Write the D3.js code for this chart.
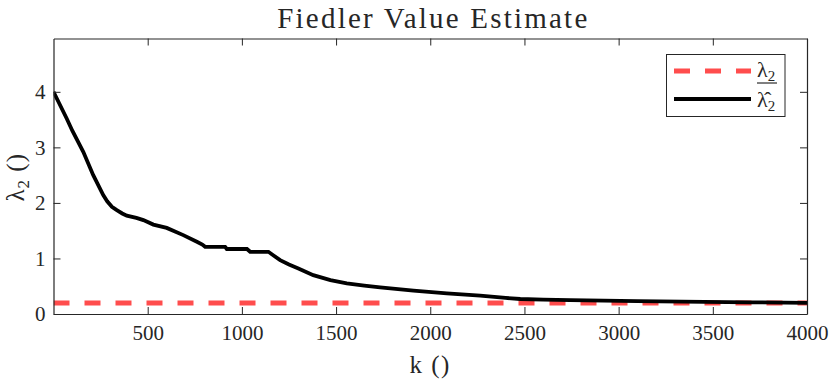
<!DOCTYPE html>
<html><head><meta charset="utf-8">
<script src="https://cdn.jsdelivr.net/npm/d3@7"></script>
<style>
body{margin:0;background:#fff}
svg{display:block}
text{font-family:"Liberation Serif","Times New Roman","DejaVu Serif",serif;fill:#262626}
</style>
</head><body>
<svg id="c" width="830" height="380"></svg>
<script>
// ---- data ----
const kValues = [0,70,100,158,211,264,285,310,336,365,389,440,477,530,601,689,761,790,805,911,920,1027,1044,1141,1170,1203,1250,1300,1379,1470,1557,1650,1734,1911,2088,2265,2400,2478,2600,2743,3098,3454,3700,4000];
const lambdaHat = [4.00,3.52,3.30,2.92,2.50,2.14,2.03,1.93,1.87,1.81,1.77,1.73,1.69,1.61,1.55,1.42,1.30,1.25,1.21,1.21,1.17,1.17,1.12,1.12,1.05,0.97,0.89,0.82,0.70,0.61,0.55,0.51,0.48,0.42,0.37,0.33,0.29,0.27,0.26,0.25,0.23,0.22,0.21,0.20];
const lambdaTrue = 0.2;
const xDomain = [0, 4000];
const yDomain = [0, 4.96];
const xTicks = [500,1000,1500,2000,2500,3000,3500,4000];
const yTicks = [0,1,2,3,4];
const titleText = "Fiedler Value Estimate";
const xLabel = "k ()";

// ---- layout ----
const L = 53.5, R = 807, T = 38.5, B = 314;
const axisCol = "#262626", redCol = "#ff4d4d";
const svg = d3.select("#c");
const x = d3.scaleLinear().domain(xDomain).range([L, R]);
const y = d3.scaleLinear().domain(yDomain).range([B, T]);

svg.append("defs").append("clipPath").attr("id","clip")
  .append("rect").attr("x",L).attr("y",T).attr("width",R-L).attr("height",B-T);
const plot = svg.append("g").attr("clip-path","url(#clip)");

// red dashed true value
plot.append("path")
  .attr("d", d3.line().x(d=>x(d)).y(()=>y(lambdaTrue))(xDomain))
  .attr("stroke", redCol).attr("stroke-width", 5).attr("stroke-dasharray","16,15").attr("fill","none");

// black estimate
const pts = kValues.map((k,i)=>[k, lambdaHat[i]]);
plot.append("path")
  .attr("d", d3.line().x(d=>x(d[0])).y(d=>y(d[1])).curve(d3.curveLinear)(pts))
  .attr("stroke","#000").attr("stroke-width",3.8).attr("fill","none");

// axes
const fs = 21;
const gx = svg.append("g").attr("transform",`translate(0,${B})`)
  .call(d3.axisBottom(x).tickValues(xTicks).tickSizeInner(-7).tickSizeOuter(0).tickPadding(11).tickFormat(d3.format("d")));
const gxt = svg.append("g").attr("transform",`translate(0,${T})`)
  .call(d3.axisTop(x).tickValues(xTicks).tickSizeInner(-7).tickSizeOuter(0).tickFormat(""));
const gy = svg.append("g").attr("transform",`translate(${L},0)`)
  .call(d3.axisLeft(y).tickValues(yTicks).tickSizeInner(-7).tickSizeOuter(0).tickPadding(8).tickFormat(d3.format("d")));
const gyr = svg.append("g").attr("transform",`translate(${R},0)`)
  .call(d3.axisRight(y).tickValues(yTicks).tickSizeInner(-7).tickSizeOuter(0).tickFormat(""));
[gx,gxt,gy,gyr].forEach(g=>{
  g.selectAll("path.domain").attr("stroke",axisCol).attr("stroke-width",1.2);
  g.selectAll(".tick line").attr("stroke",axisCol).attr("stroke-width",1);
  g.selectAll("text").attr("font-size",fs).attr("font-family",'"Liberation Serif","Times New Roman",serif').attr("fill",axisCol);
});

// title
svg.append("text").attr("x",(L+R)/2 + 2).attr("y",28).attr("text-anchor","middle")
  .attr("font-size",29).attr("textLength",310).attr("lengthAdjust","spacing").text(titleText);

// x label
svg.append("text").attr("x",(L+R)/2).attr("y",373).attr("text-anchor","middle")
  .attr("font-size",25).attr("letter-spacing",1.5).text(xLabel);

// y label
const yl = svg.append("text").attr("transform",`translate(24,${(T+B)/2 + 1}) rotate(-90)`)
  .attr("text-anchor","middle").attr("font-size",25).attr("letter-spacing",1);
yl.append("tspan").text("λ");
yl.append("tspan").attr("font-size",17).attr("dy",5).text("2");
yl.append("tspan").attr("dy",-5).text(" ()");

// legend
const lg = svg.append("g");
lg.append("rect").attr("x",666.5).attr("y",54.5).attr("width",118.5).attr("height",62)
  .attr("fill","#fff").attr("stroke",axisCol).attr("stroke-width",1);
lg.append("line").attr("x1",674).attr("x2",751).attr("y1",71).attr("y2",71)
  .attr("stroke",redCol).attr("stroke-width",5).attr("stroke-dasharray","16,15");
lg.append("line").attr("x1",674).attr("x2",751).attr("y1",99).attr("y2",99)
  .attr("stroke","#000").attr("stroke-width",3.8);
const t1 = lg.append("text").attr("x",757).attr("y",77).attr("font-size",22);
t1.append("tspan").text("λ");
t1.append("tspan").attr("font-size",15).attr("dy",4).text("2");
lg.append("line").attr("x1",757).attr("x2",777).attr("y1",83).attr("y2",83)
  .attr("stroke","#000").attr("stroke-width",1);
const t2 = lg.append("text").attr("x",757).attr("y",107).attr("font-size",22);
t2.append("tspan").text("λ\u0302");
t2.append("tspan").attr("font-size",15).attr("dy",4).text("2");
</script>
</body></html>
